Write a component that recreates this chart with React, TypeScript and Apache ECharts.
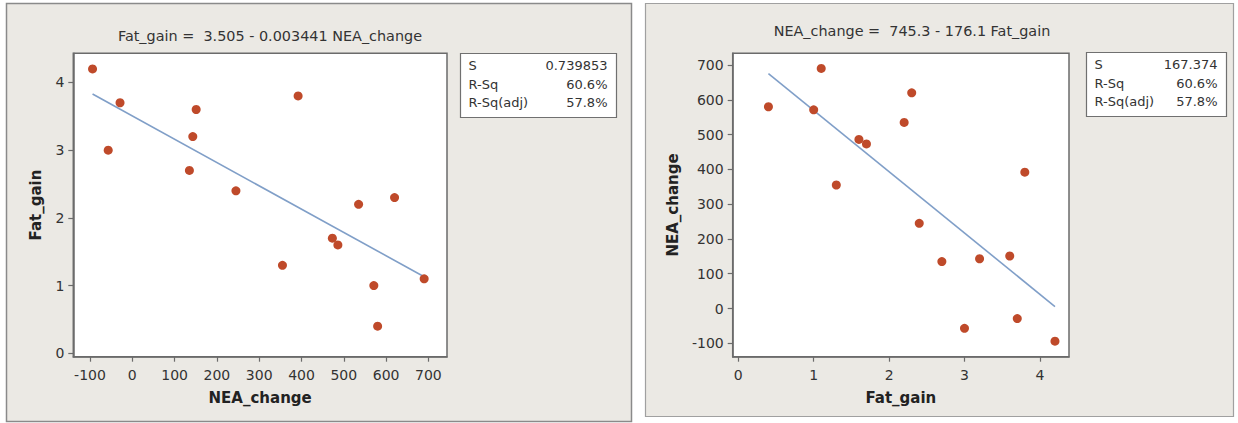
import React, { useEffect, useRef } from "react";
import * as echarts from "echarts";

// NEA (non-exercise activity) change vs. fat gain, 16 subjects
const neaChange = [-94, -57, -29, 135, 143, 151, 245, 355, 392, 473, 486, 535, 571, 580, 620, 690];
const fatGain = [4.2, 3.0, 3.7, 2.7, 3.2, 3.6, 2.4, 1.3, 3.8, 1.7, 1.6, 2.2, 1.0, 0.4, 2.3, 1.1];

// Fitted lines
const fatFit = { intercept: 3.505, slope: -0.003441 };
const neaFit = { intercept: 745.3, slope: -176.1 };

// Fit summary tables
const statNames = ["S", "R-Sq", "R-Sq(adj)"];
const fatStats = ["0.739853", "60.6%", "57.8%"];
const neaStats = ["167.374", "60.6%", "57.8%"];

// Tick labels
const neaTicks = [-100, 0, 100, 200, 300, 400, 500, 600, 700];
const fatTicksLeft = [0, 1, 2, 3, 4];
const fatTicksRight = [0, 1, 2, 3, 4];

const FONT = "DejaVu Sans";
const TEXT = "#333333";
const FRAME = "#6b6b6b";
const DOT = "#bf4a2a";
const LINE = "#809fc8";

function fitLine(xs: number[], fit: { intercept: number; slope: number }) {
  const lo = Math.min(...xs);
  const hi = Math.max(...xs);
  return [
    [lo, fit.intercept + fit.slope * lo],
    [hi, fit.intercept + fit.slope * hi],
  ];
}

function statBox(x: number, y: number, w: number, h: number, values: string[]) {
  const children: any[] = [
    {
      type: "rect",
      shape: { x, y, width: w, height: h },
      style: { fill: "#ffffff", stroke: "#707070", lineWidth: 1.2 },
    },
  ];
  statNames.forEach((name, i) => {
    const ty = y + 12 + i * 18.5;
    children.push({
      type: "text",
      style: { text: name, x: x + 8, y: ty, align: "left", verticalAlign: "middle", font: `13px '${FONT}'`, fill: TEXT },
    });
    children.push({
      type: "text",
      style: { text: values[i], x: x + w - 9, y: ty, align: "right", verticalAlign: "middle", font: `13px '${FONT}'`, fill: TEXT },
    });
  });
  return { type: "group", children };
}

function axisCommon(ticks: number[], margin: number) {
  return {
    axisLine: { show: true, onZero: false, lineStyle: { color: FRAME, width: 1.5 } },
    axisTick: { show: true, inside: false, length: 5, customValues: ticks, lineStyle: { color: FRAME, width: 1.2 } },
    axisLabel: { customValues: ticks, color: TEXT, fontFamily: FONT, fontSize: 14, margin },
    splitLine: { show: false },
    nameLocation: "middle" as const,
    nameTextStyle: { color: "#222", fontFamily: FONT, fontSize: 15, fontWeight: "bold" as const },
  };
}

export default function App() {
  const ref = useRef<HTMLDivElement>(null);

  useEffect(() => {
    if (!ref.current) return;
    const chart = echarts.init(ref.current, undefined, { renderer: "svg" });

    const option: any = {
      animation: false,
      backgroundColor: "#ffffff",
      graphic: [
        {
          type: "rect",
          z: -5,
          shape: { x: 6.5, y: 3.5, width: 625, height: 418 },
          style: { fill: "#ebe9e4", stroke: "#8a8a8a", lineWidth: 1.5 },
        },
        {
          type: "rect",
          z: -5,
          shape: { x: 645.5, y: 3.5, width: 588, height: 413 },
          style: { fill: "#ebe9e4", stroke: "#a0a0a0", lineWidth: 1.2 },
        },
        {
          type: "text",
          style: {
            text: "Fat_gain =  3.505 - 0.003441 NEA_change",
            x: 270,
            y: 36,
            align: "center",
            verticalAlign: "middle",
            font: `14.4px '${FONT}'`,
            fill: TEXT,
          },
        },
        {
          type: "text",
          style: {
            text: "NEA_change =  745.3 - 176.1 Fat_gain",
            x: 912,
            y: 31,
            align: "center",
            verticalAlign: "middle",
            font: `14.4px '${FONT}'`,
            fill: TEXT,
          },
        },
        statBox(460.5, 53.5, 156, 64, fatStats),
        statBox(1086.5, 52.5, 140, 64, neaStats),
      ],
      grid: [
        {
          left: 73.3,
          top: 53.3,
          width: 373.7,
          height: 303.4,
          show: true,
          backgroundColor: "#ffffff",
          borderColor: FRAME,
          borderWidth: 1.5,
        },
        {
          left: 732.7,
          top: 53.3,
          width: 336.3,
          height: 303.4,
          show: true,
          backgroundColor: "#ffffff",
          borderColor: FRAME,
          borderWidth: 1.5,
        },
      ],
      xAxis: [
        {
          gridIndex: 0,
          type: "value",
          min: -139.5,
          max: 744,
          name: "NEA_change",
          nameGap: 34,
          ...axisCommon(neaTicks, 11),
        },
        {
          gridIndex: 1,
          type: "value",
          min: -0.074,
          max: 4.386,
          name: "Fat_gain",
          nameGap: 34,
          ...axisCommon(fatTicksRight, 11),
        },
      ],
      yAxis: [
        {
          gridIndex: 0,
          type: "value",
          min: -0.05,
          max: 4.43,
          name: "Fat_gain",
          nameGap: 30,
          ...axisCommon(fatTicksLeft, 9),
        },
        {
          gridIndex: 1,
          type: "value",
          min: -138.5,
          max: 733.6,
          name: "NEA_change",
          nameGap: 52,
          ...axisCommon(neaTicks, 9),
        },
      ],
      series: [
        {
          type: "line",
          xAxisIndex: 0,
          yAxisIndex: 0,
          data: fitLine(neaChange, fatFit),
          symbol: "none",
          lineStyle: { color: LINE, width: 1.6 },
          z: 2,
        },
        {
          type: "scatter",
          xAxisIndex: 0,
          yAxisIndex: 0,
          data: neaChange.map((x, i) => [x, fatGain[i]]),
          symbolSize: 9,
          itemStyle: { color: DOT, opacity: 1 },
          z: 3,
        },
        {
          type: "line",
          xAxisIndex: 1,
          yAxisIndex: 1,
          data: fitLine(fatGain, neaFit),
          symbol: "none",
          lineStyle: { color: LINE, width: 1.6 },
          z: 2,
        },
        {
          type: "scatter",
          xAxisIndex: 1,
          yAxisIndex: 1,
          data: fatGain.map((x, i) => [x, neaChange[i]]),
          symbolSize: 9,
          itemStyle: { color: DOT, opacity: 1 },
          z: 3,
        },
      ],
    };

    chart.setOption(option);
    return () => chart.dispose();
  }, []);

  return (
    <div
      ref={ref}
      style={{ position: "absolute", left: 0, top: 0, width: 1238, height: 423 }}
    />
  );
}
